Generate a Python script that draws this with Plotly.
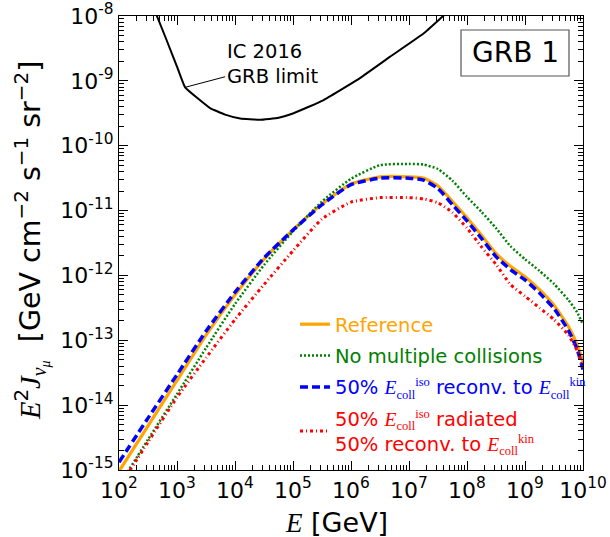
import plotly.graph_objects as go

# ---- data (log10 values) ----
log_E = [2.0, 2.5, 3.0, 3.5, 4.0, 4.5, 5.0, 5.5, 6.0, 6.5, 7.0, 7.25, 7.5, 7.75,
         8.0, 8.25, 8.5, 8.75, 9.0, 9.25, 9.5, 9.75, 9.9, 10.0]
log_reference = [-15.02, -14.32, -13.62, -12.92, -12.30, -11.75, -11.30, -10.90, -10.59, -10.48,
                 -10.48, -10.50, -10.62, -10.86, -11.11, -11.38, -11.66, -11.86, -12.02, -12.22,
                 -12.46, -12.79, -13.07, -13.33]
log_no_multi = [-15.24, -14.53, -13.83, -13.12, -12.44, -11.84, -11.32, -10.86, -10.51, -10.30,
                -10.28, -10.29, -10.36, -10.54, -10.79, -11.02, -11.27, -11.55, -11.75, -11.93,
                -12.13, -12.38, -12.57, -12.76]
log_reconv = [-14.88, -14.20, -13.53, -12.86, -12.26, -11.73, -11.30, -10.91, -10.60, -10.50,
              -10.50, -10.53, -10.66, -10.91, -11.16, -11.43, -11.71, -11.91, -12.07, -12.27,
              -12.51, -12.85, -13.14, -13.45]
log_radiated = [-15.27, -14.57, -13.88, -13.27, -12.68, -12.14, -11.62, -11.13, -10.87, -10.80,
                -10.80, -10.82, -10.88, -11.03, -11.27, -11.56, -11.83, -12.14, -12.32, -12.50,
                -12.68, -12.92, -13.16, -13.42]
ic_log_E = [2.60, 2.82, 3.00, 3.14, 3.57, 3.83, 4.09, 4.43, 4.75, 5.01, 5.52, 6.10, 6.67, 7.25, 7.59, 7.72]
ic_log_limit = [-7.88, -8.37, -8.78, -9.10, -9.42, -9.52, -9.58, -9.60, -9.57, -9.50, -9.30, -8.99,
                -8.63, -8.27, -8.00, -7.90]
x_tick_exp = [2, 3, 4, 5, 6, 7, 8, 9, 10]
y_tick_exp = [-15, -14, -13, -12, -11, -10, -9, -8]

def pw(v):
    return [10 ** a for a in v]

E = pw(log_E)
SERIF = "font-family:'Liberation Serif'"
def Ei(sub, sup):
    return (f"<span style=\"{SERIF}\"><i>E</i></span>"
            f"<sub><span style=\"{SERIF};font-size:12.5px\">{sub}</span></sub>"
            f"<sup><span style=\"{SERIF};font-size:12.5px\">{sup}</span></sup>")

SM = 0.5
fig = go.Figure()
fig.add_trace(go.Scatter(x=pw(ic_log_E), y=pw(ic_log_limit), mode="lines",
                         line=dict(color="black", width=2, shape="spline", smoothing=0.3),
                         showlegend=False))
fig.add_trace(go.Scatter(x=E, y=pw(log_reference), mode="lines", legendgroup="a",
                         line=dict(color="#FFA500", width=3.2, shape="spline", smoothing=SM),
                         name='<span style="color:#FFA500">Reference</span>'))
fig.add_trace(go.Scatter(x=E, y=pw(log_no_multi), mode="lines", legendgroup="b",
                         line=dict(color="#008000", width=2.5, dash="2px,2px", shape="spline", smoothing=SM),
                         name='<span style="color:#008000">No multiple collisions</span>'))
fig.add_trace(go.Scatter(x=E, y=pw(log_reconv), mode="lines", legendgroup="c",
                         line=dict(color="#0000FF", width=3.5, dash="8px,4px", shape="spline", smoothing=SM),
                         name='<span style="color:#0000FF">50% ' + Ei("coll", "iso") + ' reconv. to ' + Ei("coll", "kin") + '</span>'))
fig.add_trace(go.Scatter(x=E, y=pw(log_radiated), mode="lines", legendgroup="d",
                         line=dict(color="#FF0000", width=3, dash="3px,3px,1px,3px", shape="spline", smoothing=SM),
                         name='<span style="color:#FF0000">50% ' + Ei("coll", "iso") + ' radiated<br>50% reconv. to ' + Ei("coll", "kin") + '</span>'))

axis_common = dict(type="log", ticks="inside", ticklen=9, tickwidth=1, tickcolor="black",
                   mirror="allticks", showline=True, linecolor="black", linewidth=1.2,
                   showgrid=False, zeroline=False, automargin=False,
                   tickfont=dict(family="DejaVu Sans", size=22, color="black"))

minor_x = [k * 10 ** n for n in range(2, 10) for k in range(2, 10)]
minor_y = [k * 10 ** n for n in range(-15, -8) for k in range(2, 10)]

fig.update_xaxes(**axis_common, range=[2, 10], tickmode="array",
                 tickvals=[10 ** e for e in x_tick_exp],
                 ticktext=[f"10<sup>{e}</sup>" for e in x_tick_exp],
                 minor=dict(ticks="inside", ticklen=5, tickcolor="black", tickmode="array",
                            tickvals=minor_x, showgrid=False))
fig.update_yaxes(**axis_common, range=[-15, -8], tickmode="array",
                 tickvals=[10 ** e for e in y_tick_exp],
                 ticktext=[f"10<sup>{e}</sup>" for e in y_tick_exp],
                 minor=dict(ticks="inside", ticklen=5, tickcolor="black", tickmode="array",
                            tickvals=minor_y, showgrid=False))

W, H = 610, 537
L, R, T, B = 119, 583, 16, 470
pxx = lambda p: (p - L) / (R - L)
pxy = lambda p: (B - p) / (B - T)

fig.update_layout(
    width=W, height=H,
    margin=dict(l=L, r=W - R, t=T, b=H - B, autoexpand=False),
    plot_bgcolor="white", paper_bgcolor="white",
    font=dict(family="DejaVu Sans", color="black"),
    legend=dict(x=pxx(295), y=pxy(305), xanchor="left", yanchor="top",
                bgcolor="rgba(0,0,0,0)", font=dict(family="DejaVu Sans", size=19.5),
                itemwidth=30, tracegroupgap=3),
    shapes=[dict(type="rect", xref="paper", yref="paper",
                 x0=pxx(461), x1=pxx(569), y0=pxy(76), y1=pxy(30),
                 line=dict(color="#555555", width=1.2), fillcolor="white")],
    annotations=[
        dict(text="GRB 1", xref="paper", yref="paper", x=pxx(515), y=pxy(53),
             xanchor="center", yanchor="middle",
             showarrow=False, font=dict(size=28, family="DejaVu Sans")),
        dict(text="IC 2016<br>GRB limit", xref="x", yref="y",
             x=ic_log_E[3], y=ic_log_limit[3], ax=87, ay=-23, showarrow=True,
             arrowhead=0, arrowwidth=1, arrowcolor="black", align="left",
             font=dict(size=19.5, family="DejaVu Sans")),
        dict(text=f"<span style=\"{SERIF}\"><i>E</i></span> [GeV]", xref="paper", yref="paper",
             x=pxx(336), y=pxy(522), xanchor="center", yanchor="middle",
             showarrow=False, font=dict(size=27)),
        dict(text=f"<span style=\"{SERIF}\"><i>E</i></span><sup>2</sup>"
                  f"<span style=\"{SERIF}\"><i>J</i></span><sub><span style=\"{SERIF}\"><i>ν</i></span><sub><span style=\"{SERIF}\"><i>μ</i></span></sub></sub>"
                  "  [GeV cm<sup>−2</sup> s<sup>−1</sup> sr<sup>−2</sup>]",
             xref="paper", yref="paper", x=pxx(31), y=pxy(241), textangle=-90,
             xanchor="center", yanchor="middle",
             showarrow=False, font=dict(size=28.5)),
    ],
)

fig.write_html("out.html")
